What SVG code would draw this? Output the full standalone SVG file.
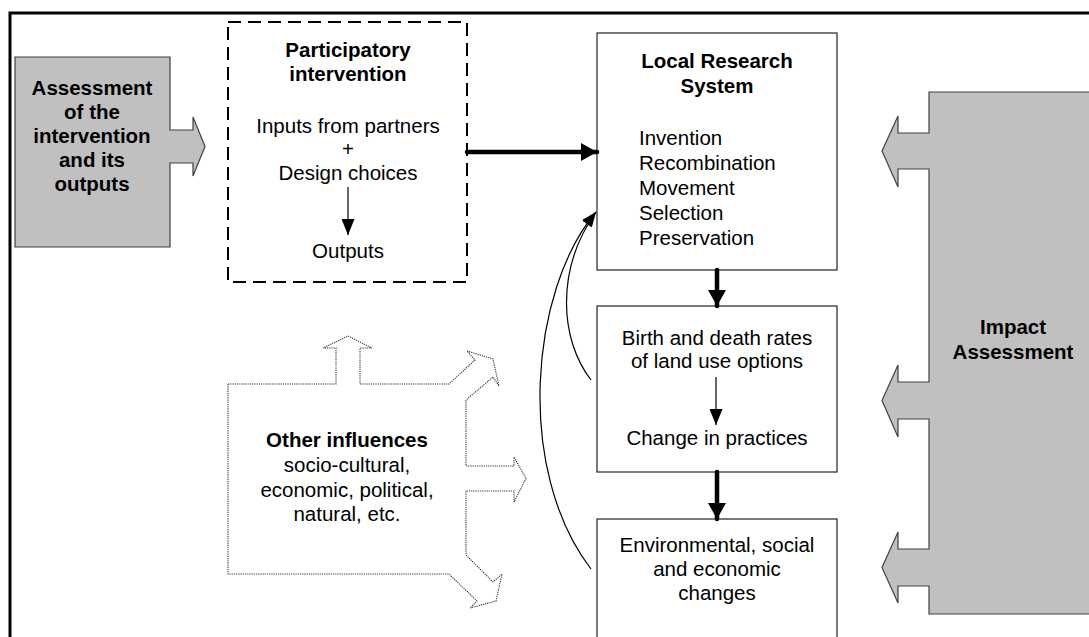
<svg xmlns="http://www.w3.org/2000/svg" width="1089" height="637" viewBox="0 0 1089 637">
<defs>
<style>
text{font-family:"Liberation Sans",Arial,sans-serif;font-size:20.5px;fill:#000}
.b{font-weight:bold}
.m{text-anchor:middle}
.gray{fill:#c0c0c0;stroke:#404040;stroke-width:1.2}
.box{fill:#fff;stroke:#222;stroke-width:1.2}
.thick{stroke:#000;stroke-width:4.5;fill:none;stroke-linecap:round}
.thin{stroke:#000;stroke-width:1.2;fill:none}
</style>
<marker id="ah" markerUnits="userSpaceOnUse" markerWidth="16" markerHeight="18" refX="16" refY="9" orient="auto"><path d="M0,0 L16,9 L0,18 z" fill="#000"/></marker>
<marker id="as" markerUnits="userSpaceOnUse" markerWidth="16" markerHeight="13" refX="16" refY="6.5" orient="auto"><path d="M0,0 L16,6.5 L0,13 z" fill="#000"/></marker>
<marker id="ac" markerUnits="userSpaceOnUse" markerWidth="15" markerHeight="11" refX="15" refY="5.5" orient="auto"><path d="M0,0 L15,5.5 L0,11 z" fill="#000"/></marker>
</defs>
<rect width="1089" height="637" fill="#fff"/>
<path d="M10,637 V13 H1089" fill="none" stroke="#000" stroke-width="3"/>

<g id="assessment">
<path class="gray" d="M15,57 H170 V130 H193 V117 L205,146.5 L193,176 V163 H170 V247 H15 Z"/>
<text class="b m" x="92" y="95">Assessment</text>
<text class="b m" x="92" y="119">of the</text>
<text class="b m" x="92" y="143">intervention</text>
<text class="b m" x="92" y="167">and its</text>
<text class="b m" x="92" y="191">outputs</text>
</g>

<g id="participatory">
<rect x="228" y="22" width="239" height="260" fill="#fff" stroke="#000" stroke-width="2" stroke-dasharray="13 7"/>
<text class="b m" x="348" y="57">Participatory</text>
<text class="b m" x="348" y="81">intervention</text>
<text class="m" x="348" y="133">Inputs from partners</text>
<text class="m" x="348" y="156">+</text>
<text class="m" x="348" y="180">Design choices</text>
<line class="thin" x1="348" y1="187" x2="348" y2="235" marker-end="url(#as)"/>
<text class="m" x="348" y="258">Outputs</text>
</g>

<g id="local-research">
<rect class="box" x="597" y="33" width="240" height="237"/>
<text class="b m" x="717" y="68">Local Research</text>
<text class="b m" x="717" y="93">System</text>
<text x="639" y="145">Invention</text>
<text x="639" y="170">Recombination</text>
<text x="639" y="195">Movement</text>
<text x="639" y="220">Selection</text>
<text x="639" y="245">Preservation</text>
</g>

<g id="birth-death">
<rect class="box" x="597" y="306" width="240" height="166"/>
<text class="m" x="717" y="345">Birth and death rates</text>
<text class="m" x="717" y="368">of land use options</text>
<line class="thin" x1="716" y1="377" x2="716" y2="425" marker-end="url(#as)"/>
<text class="m" x="717" y="445">Change in practices</text>
</g>

<g id="changes">
<rect class="box" x="597" y="519" width="240" height="140"/>
<text class="m" x="717" y="552">Environmental, social</text>
<text class="m" x="717" y="576">and economic</text>
<text class="m" x="717" y="600">changes</text>
</g>

<g id="impact">
<path class="gray" d="M929,92 H1095 V614 H929 V586 H898 V603 L882,567.5 L898,532 V549 H929 V419 H898 V437 L882,400.5 L898,365 V382 H929 V169 H898 V187 L882,151 L898,116 V133 H929 Z"/>
<text class="b m" x="1013" y="334">Impact</text>
<text class="b m" x="1013" y="359">Assessment</text>
</g>

<g id="other-influences">
<path d="M228,384 H336 V348 H323 L348,336 L372,348 H360 V384 H449 L475,360 L467,351 L493,359 L499,386 L493,377 L466,400 V466 H514 V457 L526,478.5 L514,502 V491 H466 V555 L493,582 L502,574 L496,601 L470,608 L477,601 L449,574 H228 Z" fill="#fff" stroke="#333" stroke-width="1.1" stroke-dasharray="1.2 1"/>
<text class="b m" x="347" y="447">Other influences</text>
<text class="m" x="347" y="472">socio-cultural,</text>
<text class="m" x="347" y="497">economic, political,</text>
<text class="m" x="347" y="521">natural, etc.</text>
</g>

<g id="connectors">
<line class="thick" x1="467" y1="152" x2="597" y2="152" marker-end="url(#ah)"/>
<line class="thick" x1="717" y1="270" x2="717" y2="306" marker-end="url(#ah)"/>
<line class="thick" x1="717" y1="472" x2="717" y2="519" marker-end="url(#ah)"/>
<path class="thin" d="M591,380 C560,340 555,270 596,212" marker-end="url(#ac)"/>
<path class="thin" d="M591,569 C515,470 530,290 596,212" marker-end="url(#ac)"/>
</g>
</svg>
